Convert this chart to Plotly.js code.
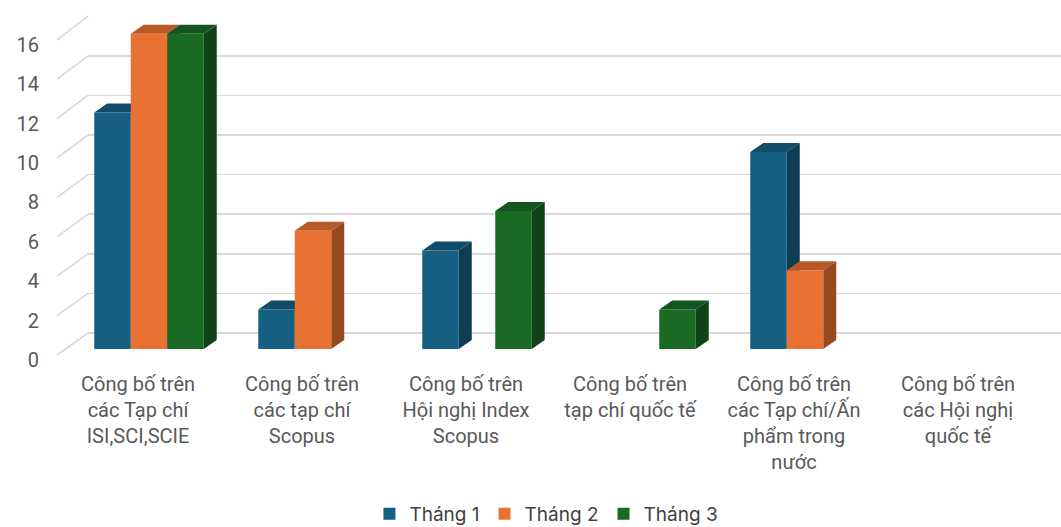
<!DOCTYPE html>
<html>
<head>
<meta charset="utf-8">
<script src="https://cdn.plot.ly/plotly-3.0.1.min.js"></script>
<style>html,body{margin:0;padding:0;background:#fff;}#chart{width:1061px;height:527px;}</style>
</head>
<body>
<div id="chart"></div>
<script>
// ---- data ----
const categories = [
  "Công bố trên<br>các Tạp chí<br>ISI,SCI,SCIE",
  "Công bố trên<br>các tạp chí<br>Scopus",
  "Công bố trên<br>Hội nghị Index<br>Scopus",
  "Công bố trên<br>tạp chí quốc tế",
  "Công bố trên<br>các Tạp chí/Ấn<br>phẩm trong<br>nước",
  "Công bố trên<br>các Hội nghị<br>quốc tế"
];
const seriesNames = ["Tháng 1", "Tháng 2", "Tháng 3"];
const thang1 = [12, 2, 5, 0, 10, 0];
const thang2 = [16, 6, 0, 0, 4, 0];
const thang3 = [16, 0, 7, 2, 0, 0];
const yTickVals = [0, 2, 4, 6, 8, 10, 12, 14, 16];

// ---- styles ----
const frontColors = ["#156082", "#E97132", "#196B24"];
const topColors   = ["#114c68", "#b85a28", "#145420"];
const sideColors  = ["#0e3c52", "#964a20", "#10421a"];

// ---- geometry (pixels) ----
const W = 1061, H = 527;
const PPU = 19.7;          // px per unit, front
const PPU_BACK = 19.8;     // px per unit, back wall
const ZERO_BARS = 349;     // px y of value 0 for bars
const ZERO_BACK = 333;     // px y of value 0 for back wall
const ZERO_FRONT = 355;    // px y of value 0 for front labels
const YMAX = 17.5;
const CAT_PX = 164, X0_PX = 149;
const BACK_LEFT = 88, FRONT_LEFT = 57;
const DX_PX = 13, DY_PX = 9;

const xLeftPx = X0_PX - 0.5 * CAT_PX;
const xr = [-0.5, -0.5 + (W - xLeftPx) / CAT_PX];
const barW = 36.5 / CAT_PX;
const offsets = [-1.5 * barW, -0.5 * barW, 0.5 * barW];
const dx = DX_PX / CAT_PX, dy = DY_PX / PPU;
const xs = categories.map((c, i) => i);
const seriesVals = [thang1, thang2, thang3];

// empty carrier so the back-wall subplot (gridlines) is created
const wallTrace = {type: "scatter", x: [], y: [], xaxis: "x", yaxis: "y",
  mode: "none", showlegend: false, hoverinfo: "skip"};

const traces = [wallTrace].concat(seriesVals.map((vals, j) => ({
  type: "bar", name: seriesNames[j], x: xs, y: vals,
  xaxis: "x2", yaxis: "y2",
  width: barW, offset: offsets[j],
  marker: {color: frontColors[j], line: {width: 0}},
  hoverinfo: "skip"
})));

// 3D faces computed from data values
const shapes = [];
xs.forEach(i => {
  seriesVals.forEach((vals, j) => {
    const v = vals[i];
    if (!v) return;
    const x0 = i + offsets[j], x1 = x0 + barW;
    shapes.push({type: "path", xref: "x2", yref: "y2", layer: "below",
      path: `M${x0},${v} L${x1},${v} L${x1+dx},${v+dy} L${x0+dx},${v+dy} Z`,
      fillcolor: topColors[j], line: {width: 0}});
    shapes.push({type: "path", xref: "x2", yref: "y2", layer: "below",
      path: `M${x1},0 L${x1+dx},${dy} L${x1+dx},${v+dy} L${x1},${v} Z`,
      fillcolor: sideColors[j], line: {width: 0}});
  });
});
// left floor/side diagonals connecting front ticks to back wall gridlines
yTickVals.forEach(v => {
  shapes.push({type: "line", xref: "paper", yref: "paper", layer: "below",
    x0: FRONT_LEFT / W, y0: 1 - (ZERO_FRONT - v * PPU) / H,
    x1: BACK_LEFT / W,  y1: 1 - (ZERO_BACK - v * PPU_BACK) / H,
    line: {color: "#d9d9d9", width: 1.6}});
});

const layout = {
  width: W, height: H,
  margin: {l: 0, r: 0, t: 0, b: 0, pad: 0, autoexpand: false},
  paper_bgcolor: "#fff", plot_bgcolor: "rgba(0,0,0,0)",
  font: {family: "Roboto, 'Open Sans', sans-serif", color: "#595959", size: 20},
  barmode: "overlay",
  showlegend: true,
  // back wall with gridlines
  xaxis: {domain: [BACK_LEFT / W, 1], range: [0, 1], showticklabels: false, ticks: "",
    showgrid: false, zeroline: false, showline: false, fixedrange: true},
  yaxis: {domain: [1 - ZERO_BACK / H, 1 - (ZERO_BACK - 16 * PPU_BACK) / H], range: [0, 16],
    tickvals: yTickVals, showticklabels: false, ticks: "", showgrid: true,
    gridcolor: "#d9d9d9", gridwidth: 1.6, zeroline: true, zerolinecolor: "#d9d9d9", zerolinewidth: 1.6,
    showline: false, fixedrange: true},
  // bars
  xaxis2: {domain: [xLeftPx / W, 1], range: xr, anchor: "y2",
    tickvals: xs, ticktext: categories, ticks: "", showgrid: false, zeroline: false, showline: false,
    tickfont: {size: 20, color: "#595959"}, ticklabelshift: -11, ticklabelstandoff: 21,
    automargin: false, fixedrange: true},
  yaxis2: {domain: [1 - ZERO_BARS / H, 1 - (ZERO_BARS - YMAX * PPU) / H], range: [0, YMAX], anchor: "x2",
    tickvals: yTickVals, ticks: "", showgrid: false, zeroline: false, showline: false,
    tickfont: {size: 20, color: "#595959"}, ticklabelshift: 11, ticklabelstandoff: 27,
    automargin: false, fixedrange: true},
  legend: {orientation: "h", x: 0.515, xanchor: "center", y: 1 - 514 / H, yanchor: "middle",
    font: {family: "Inter, 'Noto Sans', sans-serif", size: 19, color: "#404040"},
    itemwidth: 30, tracegroupgap: 0, bgcolor: "rgba(0,0,0,0)"},
  shapes: shapes
};

Plotly.newPlot("chart", traces, layout, {displayModeBar: false, staticPlot: true});
</script>
</body>
</html>
